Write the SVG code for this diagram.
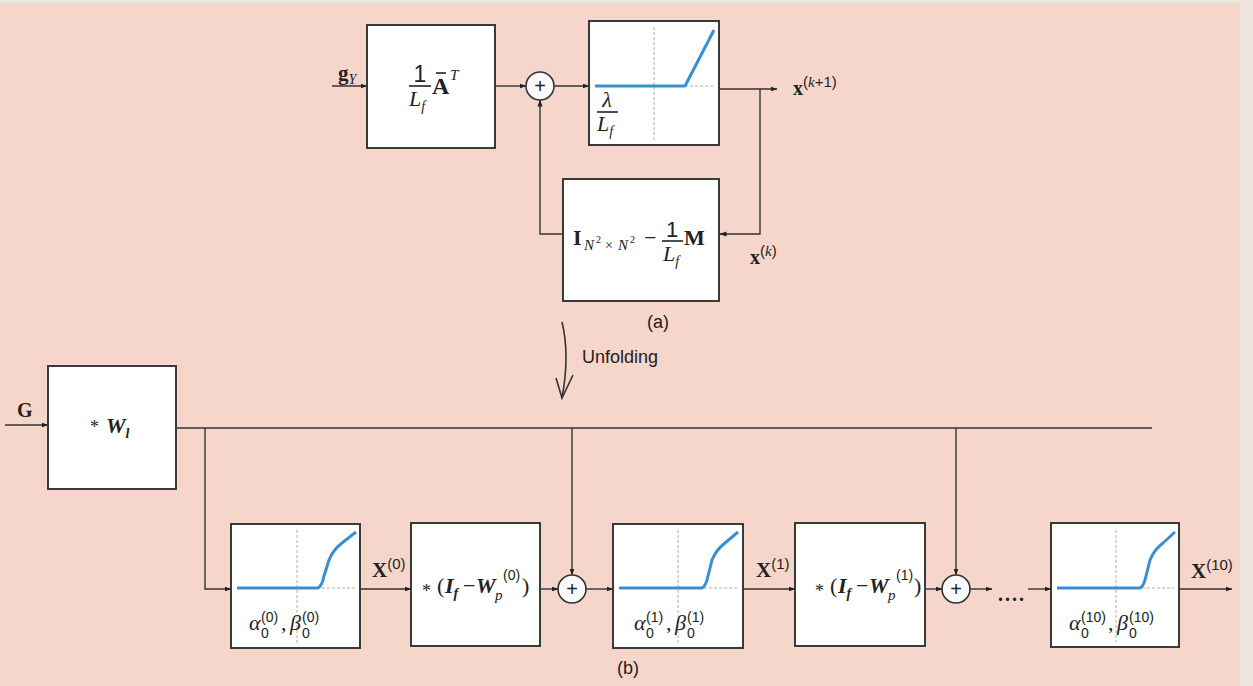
<svg xmlns="http://www.w3.org/2000/svg" width="1253" height="686" viewBox="0 0 1253 686">
<defs>
<style>
.bg{fill:#f6d6ca}
.edge{fill:#ece6dc}
.box{fill:#ffffff;stroke:#3a3a3a;stroke-width:2}
.ln{stroke:#333;stroke-width:1.4;fill:none}
.ax{stroke:#b8aaa2;stroke-width:1;stroke-dasharray:3 2;fill:none}
.cv{stroke:#3b8fd0;stroke-width:3;fill:none;stroke-linejoin:round}
.sum{fill:#fbfbfb;stroke:#333;stroke-width:1.6}
.sr{font-family:"Liberation Serif",serif;fill:#222}
.ss{font-family:"Liberation Sans",sans-serif;fill:#222}
.b{font-weight:bold}
.i{font-style:italic}
</style>
<marker id="ar" markerWidth="7" markerHeight="6" refX="6.5" refY="3" orient="auto" markerUnits="userSpaceOnUse">
<path d="M0,0.5 L7,3 L0,5.5 z" fill="#222"/>
</marker>
</defs>
<rect x="0" y="0" width="1253" height="686" class="edge"/>
<rect x="0" y="3" width="1240" height="683" class="bg"/>

<g id="connectors">
<line class="ln" x1="332" y1="86" x2="367" y2="86" marker-end="url(#ar)"/>
<line class="ln" x1="495" y1="86" x2="526" y2="86" marker-end="url(#ar)"/>
<line class="ln" x1="554" y1="86" x2="589" y2="86" marker-end="url(#ar)"/>
<line class="ln" x1="719" y1="89" x2="777" y2="89" marker-end="url(#ar)"/>
<polyline class="ln" points="760,89 760,234 720,234" marker-end="url(#ar)"/>
<polyline class="ln" points="563,234 540,234 540,100" marker-end="url(#ar)"/>
<path d="M562,322 Q570,355 562,398" fill="none" stroke="#333" stroke-width="1.6"/>
<polyline points="556,378 562,398 573,375" fill="none" stroke="#333" stroke-width="1.6"/>

<line class="ln" x1="5" y1="425" x2="48" y2="425" marker-end="url(#ar)"/>
<line class="ln" x1="176" y1="428" x2="1152" y2="428"/>
<polyline class="ln" points="205,428 205,589 231,589" marker-end="url(#ar)"/>
<line class="ln" x1="360" y1="589" x2="411" y2="589" marker-end="url(#ar)"/>
<line class="ln" x1="540" y1="589" x2="558" y2="589" marker-end="url(#ar)"/>
<line class="ln" x1="572" y1="428" x2="572" y2="575" marker-end="url(#ar)"/>
<line class="ln" x1="586" y1="589" x2="613" y2="589" marker-end="url(#ar)"/>
<line class="ln" x1="743" y1="589" x2="795" y2="589" marker-end="url(#ar)"/>
<line class="ln" x1="925" y1="589" x2="942" y2="589" marker-end="url(#ar)"/>
<line class="ln" x1="956" y1="428" x2="956" y2="575" marker-end="url(#ar)"/>
<line class="ln" x1="970" y1="589" x2="992" y2="589" marker-end="url(#ar)"/>
<line class="ln" x1="1028" y1="589" x2="1051" y2="589" marker-end="url(#ar)"/>
<line class="ln" x1="1179" y1="589" x2="1232" y2="589" marker-end="url(#ar)"/>
</g>

<g id="labels">
<text class="sr b" x="338" y="80" font-size="21">g<tspan class="i" font-weight="normal" font-size="14" dy="4">Y</tspan></text>
<text class="sr b" x="793" y="95" font-size="20">x<tspan class="ss" font-weight="normal" font-size="15" dy="-8">(<tspan class="sr i">k</tspan>+1)</tspan></text>
<text class="sr b" x="750" y="264" font-size="20">x<tspan class="ss" font-weight="normal" font-size="15" dy="-8">(<tspan class="sr i">k</tspan>)</tspan></text>
<text class="ss" x="647" y="328" font-size="18">(a)</text>
<text class="ss" x="582" y="363" font-size="18">Unfolding</text>
<text class="sr b" x="17" y="417" font-size="20">G</text>
<text class="sr b" x="372" y="577" font-size="21">X<tspan class="ss" font-weight="normal" font-size="15" dy="-8">(0)</tspan></text>
<text class="sr b" x="756" y="577" font-size="21">X<tspan class="ss" font-weight="normal" font-size="15" dy="-8">(1)</tspan></text>
<text class="sr b" x="1191" y="578" font-size="21">X<tspan class="ss" font-weight="normal" font-size="15" dy="-8">(10)</tspan></text>
<text class="sr b" x="998" y="601" font-size="20" letter-spacing="2">....</text>
<text class="ss" x="617" y="674" font-size="18">(b)</text>
</g>

<g id="node-A">
<rect class="box" x="367" y="25" width="128" height="123"/>
<text class="ss" x="420" y="82" font-size="23" text-anchor="middle">1</text>
<line x1="409" y1="86" x2="431" y2="86" stroke="#222" stroke-width="1.6"/>
<text class="sr i" x="409" y="106" font-size="22">L<tspan font-size="14" dy="5">f</tspan></text>
<text class="sr b" x="432" y="94" font-size="24">A</text>
<line x1="436" y1="73" x2="446" y2="73" stroke="#222" stroke-width="1.6"/>
<text class="sr i" x="450" y="80" font-size="15">T</text>
</g>

<g id="sum-top">
<circle class="sum" cx="540" cy="86" r="14"/>
<text class="ss" x="540" y="93" font-size="20" text-anchor="middle">+</text>
</g>

<g id="node-threshold">
<rect class="box" x="589" y="21" width="130" height="124"/>
<line class="ax" x1="654" y1="27" x2="654" y2="140"/>
<line class="ax" x1="595" y1="86" x2="714" y2="86"/>
<polyline class="cv" points="595,86 685,86 714,30"/>
<text class="sr i" x="607" y="107" font-size="22" text-anchor="middle">λ</text>
<line x1="597" y1="112" x2="618" y2="112" stroke="#222" stroke-width="1.6"/>
<text class="sr i" x="597" y="131" font-size="22">L<tspan font-size="14" dy="5">f</tspan></text>
</g>

<g id="node-M">
<rect class="box" x="563" y="179" width="156" height="122"/>
<text class="sr b" x="573" y="245" font-size="22">I</text>
<text class="sr i" x="584" y="250" font-size="15">N</text>
<text class="sr" x="596" y="243" font-size="10">2</text>
<text class="sr" x="605" y="250" font-size="14">×</text>
<text class="sr i" x="618" y="250" font-size="15">N</text>
<text class="sr" x="630" y="243" font-size="10">2</text>
<text class="sr" x="644" y="245" font-size="22">−</text>
<text class="ss" x="672" y="237" font-size="22" text-anchor="middle">1</text>
<line x1="662" y1="241" x2="683" y2="241" stroke="#222" stroke-width="1.6"/>
<text class="sr i" x="663" y="261" font-size="22">L<tspan font-size="14" dy="5">f</tspan></text>
<text class="sr b" x="684" y="245" font-size="22">M</text>
</g>

<g id="node-Wl">
<rect class="box" x="48" y="366" width="128" height="123"/>
<text class="sr" x="90" y="433" font-size="18">*</text>
<text class="sr b i" x="106" y="433" font-size="22">W<tspan font-size="14" dy="5">l</tspan></text>
</g>

<g id="node-act0">
<rect class="box" x="231" y="524" width="129" height="124"/>
<line class="ax" x1="297" y1="530" x2="297" y2="643"/>
<line class="ax" x1="237" y1="588" x2="356" y2="588"/>
<path class="cv" d="M237,588 L318,588 Q322,586 324,576 L329,560 Q333,550 342,543 L356,532"/>
<text class="sr i" x="249" y="630" font-size="22">α</text>
<text class="ss" x="261" y="622" font-size="14">(0)</text>
<text class="ss" x="261" y="638" font-size="14">0</text>
<text class="sr" x="281" y="630" font-size="22">,</text>
<text class="sr i" x="290" y="630" font-size="22">β</text>
<text class="ss" x="302" y="622" font-size="14">(0)</text>
<text class="ss" x="302" y="638" font-size="14">0</text>
</g>

<g id="node-Wp0">
<rect class="box" x="411" y="523" width="129" height="123"/>
<text class="sr" x="422" y="597" font-size="18">*</text>
<text class="sr" x="437" y="593" font-size="22">(</text>
<text class="sr b i" x="445" y="593" font-size="22">I<tspan font-size="14" dy="5">f</tspan></text>
<text class="sr" x="463" y="593" font-size="22">−</text>
<text class="sr b i" x="476" y="593" font-size="22">W</text>
<text class="sr i" x="495" y="600" font-size="15">p</text>
<text class="ss" x="503" y="580" font-size="14">(0)</text>
<text class="sr" x="522" y="593" font-size="22">)</text>
</g>

<g id="sum-0">
<circle class="sum" cx="572" cy="589" r="14"/>
<text class="ss" x="572" y="596" font-size="20" text-anchor="middle">+</text>
</g>

<g id="node-act1">
<rect class="box" x="613" y="524" width="130" height="124"/>
<line class="ax" x1="678" y1="530" x2="678" y2="643"/>
<line class="ax" x1="619" y1="588" x2="738" y2="588"/>
<path class="cv" d="M619,588 L702,588 Q706,586 708,576 L712,560 Q716,550 725,543 L738,532"/>
<text class="sr i" x="634" y="630" font-size="22">α</text>
<text class="ss" x="646" y="622" font-size="14">(1)</text>
<text class="ss" x="646" y="638" font-size="14">0</text>
<text class="sr" x="666" y="630" font-size="22">,</text>
<text class="sr i" x="675" y="630" font-size="22">β</text>
<text class="ss" x="687" y="622" font-size="14">(1)</text>
<text class="ss" x="687" y="638" font-size="14">0</text>
</g>

<g id="node-Wp1">
<rect class="box" x="795" y="523" width="130" height="123"/>
<text class="sr" x="815" y="597" font-size="18">*</text>
<text class="sr" x="830" y="593" font-size="22">(</text>
<text class="sr b i" x="838" y="593" font-size="22">I<tspan font-size="14" dy="5">f</tspan></text>
<text class="sr" x="856" y="593" font-size="22">−</text>
<text class="sr b i" x="869" y="593" font-size="22">W</text>
<text class="sr i" x="888" y="600" font-size="15">p</text>
<text class="ss" x="896" y="580" font-size="14">(1)</text>
<text class="sr" x="914" y="593" font-size="22">)</text>
</g>

<g id="sum-1">
<circle class="sum" cx="956" cy="589" r="14"/>
<text class="ss" x="956" y="596" font-size="20" text-anchor="middle">+</text>
</g>

<g id="node-act10">
<rect class="box" x="1051" y="523" width="128" height="124"/>
<line class="ax" x1="1116" y1="530" x2="1116" y2="642"/>
<line class="ax" x1="1057" y1="588" x2="1174" y2="588"/>
<path class="cv" d="M1057,588 L1140,588 Q1144,586 1146,576 L1150,560 Q1154,550 1163,543 L1175,532"/>
<text class="sr i" x="1069" y="630" font-size="22">α</text>
<text class="ss" x="1081" y="622" font-size="14">(10)</text>
<text class="ss" x="1081" y="638" font-size="14">0</text>
<text class="sr" x="1108" y="630" font-size="22">,</text>
<text class="sr i" x="1117" y="630" font-size="22">β</text>
<text class="ss" x="1129" y="622" font-size="14">(10)</text>
<text class="ss" x="1129" y="638" font-size="14">0</text>
</g>
</svg>
